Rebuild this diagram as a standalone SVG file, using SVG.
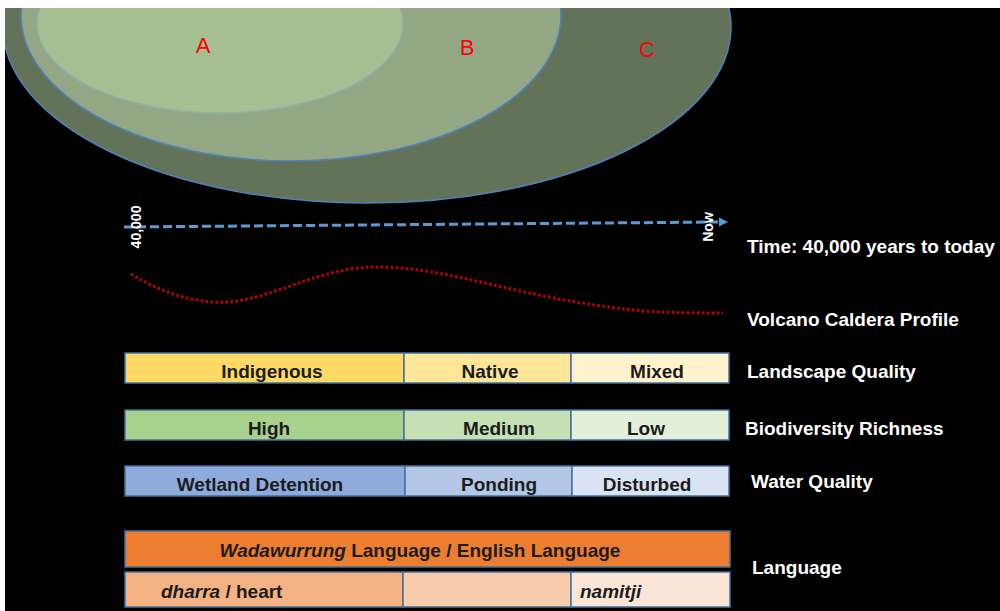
<svg xmlns="http://www.w3.org/2000/svg" width="1000" height="611" viewBox="0 0 1000 611">
<style>
  .lbl { font-family: "Liberation Sans", Arial, sans-serif; font-weight: bold; font-size: 19px; fill: #ffffff; }
  .bt { font-family: "Liberation Sans", Arial, sans-serif; font-weight: bold; font-size: 19px; fill: #1c1c1c; text-anchor: middle; }
  .bl { font-family: "Liberation Sans", Arial, sans-serif; font-weight: bold; font-size: 19px; fill: #1c1c1c; }
  .zone { font-family: "Liberation Sans", Arial, sans-serif; font-size: 22px; fill: #ff0000; text-anchor: middle; }
  .tick { font-family: "Liberation Sans", Arial, sans-serif; font-weight: bold; font-size: 14px; fill: #ffffff; text-anchor: middle; }
  .cell { stroke: #41719c; stroke-width: 1.5; }
</style>
<defs>
  <marker id="arr" viewBox="0 0 10 10" refX="0" refY="5" markerWidth="3" markerHeight="3.4" orient="auto" markerUnits="strokeWidth">
    <path d="M0,0 L10,5 L0,10 Z" fill="#5b9bd5"/>
  </marker>
</defs>
<rect x="0" y="0" width="1000" height="611" fill="#000000"/>

<g id="zones">
  <ellipse id="zone-c" cx="367" cy="27" rx="364" ry="176" fill="#63735a" stroke="#4f81bd" stroke-width="1.5"/>
  <ellipse id="zone-b" cx="291" cy="15" rx="270" ry="146" fill="#93a785" stroke="#4f81bd" stroke-width="1.5"/>
  <ellipse id="zone-a" cx="220" cy="24" rx="183" ry="89" fill="#a5bf92" stroke="#8fb0a8" stroke-width="1.5"/>
  <text class="zone" x="203" y="53">A</text>
  <text class="zone" x="467" y="55">B</text>
  <text class="zone" x="647" y="57">C</text>
</g>

<g id="connectors">
  <line id="timeline" x1="124" y1="227" x2="719" y2="222" stroke="#5b9bd5" stroke-width="3" stroke-dasharray="9 4" marker-end="url(#arr)"/>
  <path id="caldera-profile" d="M131,274 C165,295 200,304 228,302 C275,298 320,268 372,267 C420,266 470,280 520,291 C570,302 620,310 660,312 C690,313 710,313 723,313" fill="none" stroke="#c00000" stroke-width="3" stroke-dasharray="2.5 2.5"/>
</g>

<g id="time-ticks">
  <text class="tick" transform="translate(141,227) rotate(-90)">40,000</text>
  <text class="tick" transform="translate(713,227) rotate(-90)">Now</text>
</g>

<g id="labels">
  <text class="lbl" x="747" y="253">Time: 40,000 years to today</text>
  <text class="lbl" x="747" y="326">Volcano Caldera Profile</text>
  <text class="lbl" x="747" y="378">Landscape Quality</text>
  <text class="lbl" x="745" y="435">Biodiversity Richness</text>
  <text class="lbl" x="751" y="488">Water Quality</text>
  <text class="lbl" x="752" y="574">Language</text>
</g>

<g id="landscape-quality">
  <rect class="cell" x="125" y="353" width="279" height="30" fill="#ffd966"/>
  <rect class="cell" x="404" y="353" width="167" height="30" fill="#ffe699"/>
  <rect class="cell" x="571" y="353" width="158" height="30" fill="#fff2cc"/>
  <text class="bt" x="272" y="378">Indigenous</text>
  <text class="bt" x="490" y="378">Native</text>
  <text class="bt" x="657" y="378">Mixed</text>
</g>

<g id="biodiversity-richness">
  <rect class="cell" x="125" y="410" width="279" height="30" fill="#a9d18e"/>
  <rect class="cell" x="404" y="410" width="167" height="30" fill="#c5e0b4"/>
  <rect class="cell" x="571" y="410" width="158" height="30" fill="#e2f0d9"/>
  <text class="bt" x="269" y="435">High</text>
  <text class="bt" x="499" y="435">Medium</text>
  <text class="bt" x="646" y="435">Low</text>
</g>

<g id="water-quality">
  <rect class="cell" x="125" y="466" width="280" height="30" fill="#8faadc"/>
  <rect class="cell" x="405" y="466" width="167" height="30" fill="#b4c7e7"/>
  <rect class="cell" x="572" y="466" width="157" height="30" fill="#dae3f3"/>
  <text class="bt" x="260" y="491">Wetland Detention</text>
  <text class="bt" x="499" y="491">Ponding</text>
  <text class="bt" x="647" y="491">Disturbed</text>
</g>

<g id="language">
  <rect class="cell" x="125" y="531" width="605" height="36" fill="#ed7d31"/>
  <text class="bt" x="420" y="557"><tspan font-style="italic">Wadawurrung</tspan> Language / English Language</text>
  <rect class="cell" x="125" y="572" width="278" height="35" fill="#f4b183"/>
  <rect class="cell" x="403" y="572" width="168" height="35" fill="#f8cbad"/>
  <rect class="cell" x="571" y="572" width="159" height="35" fill="#fbe5d6"/>
  <text class="bl" x="161" y="598"><tspan font-style="italic">dharra</tspan> / heart</text>
  <text class="bl" x="580" y="598" font-style="italic">namitji</text>
</g>

<rect x="0" y="0" width="1000" height="8" fill="#ffffff"/>
<rect x="0" y="0" width="5" height="611" fill="#ffffff"/>
</svg>
